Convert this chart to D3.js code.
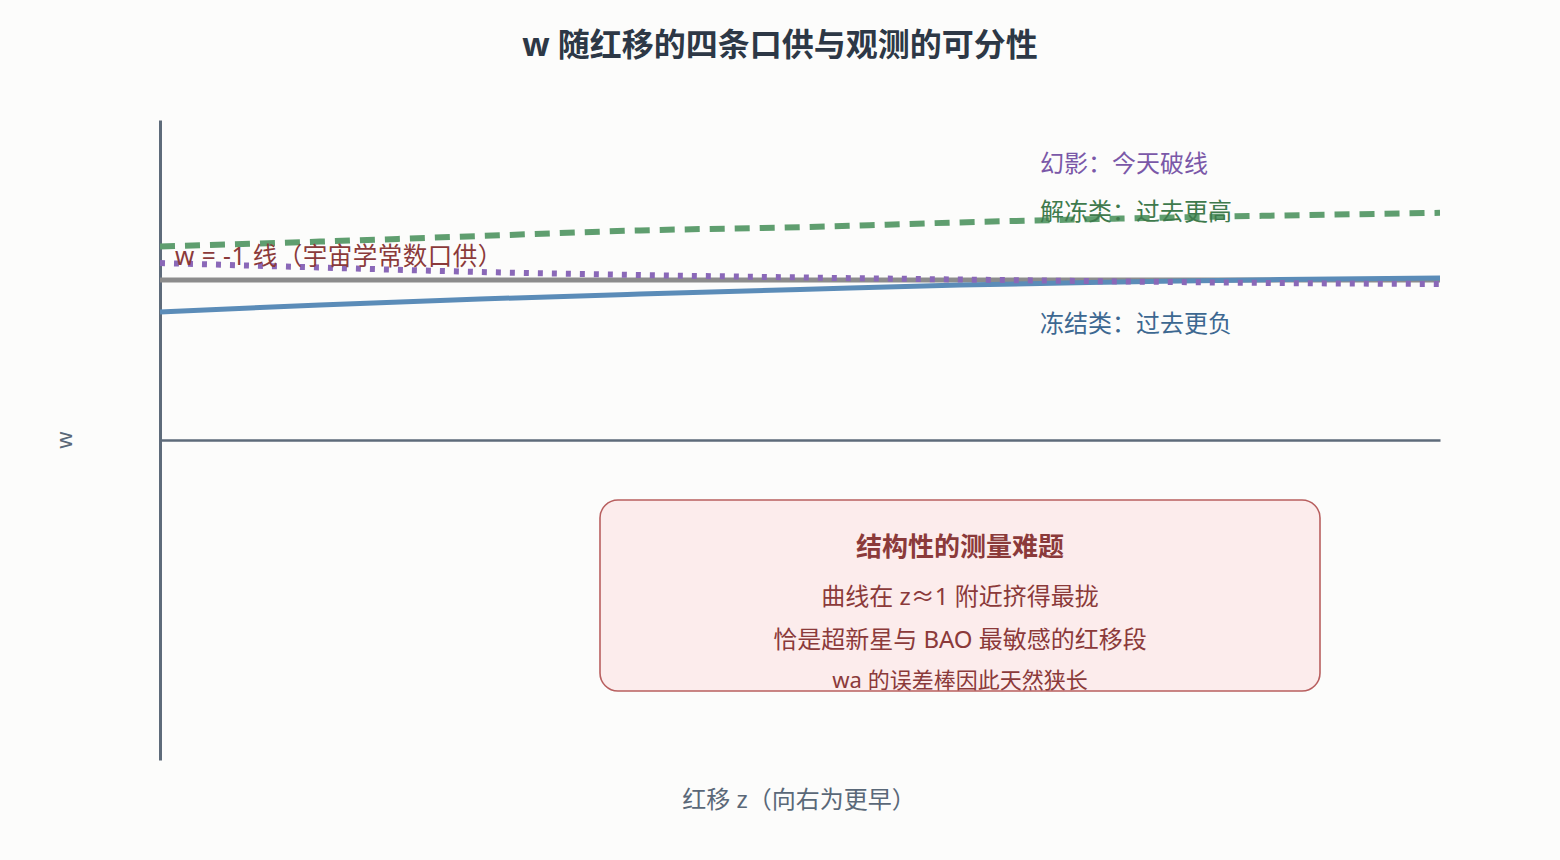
<!DOCTYPE html>
<html>
<head>
<meta charset="utf-8">
<script src="https://cdn.jsdelivr.net/npm/d3@7"></script>
<style>
  html, body { margin: 0; padding: 0; background: #fcfcfb; }
  svg { display: block; font-family: "Noto Sans", "Noto Sans CJK SC", sans-serif; }
</style>
</head>
<body>
<svg id="chart" width="1560" height="860"></svg>
<script>
// ---- data ----
const redshift = [0, 0.25, 0.5, 0.75, 1.0, 1.25, 1.5, 1.75, 2.0];
const wLambda   = [-1, -1, -1, -1, -1, -1, -1, -1, -1];
const wFreezing = [-1.020, -1.0156, -1.0119, -1.0088, -1.0059, -1.0031, -1.0013, -0.9997, -0.9988];
const wThawing  = [-0.979, -0.976, -0.9725, -0.969, -0.967, -0.964, -0.9616, -0.9597, -0.958];
const wPhantom  = [-0.9894, -0.9922, -0.995, -0.9969, -0.9984, -0.9997, -1.0009, -1.0019, -1.0025];
const xDomain = [0, 2];
const yDomain = [-1.3, -0.9];
const axisBaseW = -1.1;

const titleText = "w 随红移的四条口供与观测的可分性";
const xLabel = "红移 z（向右为更早）";
const yLabel = "w";
const lambdaLabel = "w = -1 线（宇宙学常数口供）";
const phantomLabel = "幻影：今天破线";
const thawingLabel = "解冻类：过去更高";
const freezingLabel = "冻结类：过去更负";
const noteTitle = "结构性的测量难题";
const noteLines = ["曲线在 z≈1 附近挤得最拢", "恰是超新星与 BAO 最敏感的红移段", "wa 的误差棒因此天然狭长"];

// ---- layout ----
const svg = d3.select("#chart");
const margin = {left: 160, right: 120, top: 120, bottom: 100};
const W = 1560, H = 860;
const iw = W - margin.left - margin.right;
const ih = H - margin.top - margin.bottom;

const x = d3.scaleLinear().domain(xDomain).range([margin.left, margin.left + iw]);
const y = d3.scaleLinear().domain(yDomain).range([margin.top + ih, margin.top]);

// title
svg.append("text").attr("x", 780).attr("y", 56).attr("text-anchor", "middle")
  .attr("font-size", 32).attr("font-weight", 700).attr("fill", "#2d3846").text(titleText);

// axes
const gx = svg.append("g").attr("transform", `translate(0,${y(axisBaseW)})`)
  .call(d3.axisBottom(x).tickValues([]).tickSizeOuter(0));
gx.select(".domain").attr("stroke", "#5e6b7a").attr("stroke-width", 2.5);
const gy = svg.append("g").attr("transform", `translate(${margin.left},0)`)
  .call(d3.axisLeft(y).tickValues([]).tickSizeOuter(0));
gy.select(".domain").attr("stroke", "#5e6b7a").attr("stroke-width", 3);

// axis labels
svg.append("text").attr("x", 799).attr("y", 808).attr("text-anchor", "middle")
  .attr("font-size", 24).attr("fill", "#5a6878").text(xLabel);
svg.append("text").attr("transform", `translate(72,${y(axisBaseW)}) rotate(-90)`)
  .attr("text-anchor", "middle").attr("font-size", 22).attr("fill", "#5a6878").text(yLabel);

// lines
const line = d3.line().x((d, i) => x(redshift[i])).y(d => y(d)).curve(d3.curveMonotoneX);
const series = [
  {vals: wLambda,   color: "#8c8c8c", width: 5, dash: null},
  {vals: wFreezing, color: "#5b8cb8", width: 5, dash: null},
  {vals: wThawing,  color: "#5f9e6f", width: 6, dash: "15,10"},
  {vals: wPhantom,  color: "#8a68b8", width: 6, dash: "5,9"}
];
series.forEach(s => {
  svg.append("path").datum(s.vals).attr("d", line)
    .attr("fill", "none").attr("stroke", s.color).attr("stroke-width", s.width)
    .attr("stroke-dasharray", s.dash);
});

// series labels
svg.append("text").attr("x", 175).attr("y", 265).attr("font-size", 24.5)
  .attr("letter-spacing", 0.5).attr("fill", "#8b3a3a").text(lambdaLabel);
svg.append("text").attr("x", x(1.375)).attr("y", 172).attr("font-size", 24)
  .attr("fill", "#7a58a8").text(phantomLabel);
svg.append("text").attr("x", x(1.375)).attr("y", 220).attr("font-size", 24)
  .attr("fill", "#3e7a4c").text(thawingLabel);
svg.append("text").attr("x", x(1.375)).attr("y", 332).attr("font-size", 24)
  .attr("fill", "#3d6891").text(freezingLabel);

// note box
const box = svg.append("g");
box.append("rect").attr("x", 600).attr("y", 500).attr("width", 720).attr("height", 191)
  .attr("rx", 18).attr("fill", "#fcecec").attr("stroke", "#b85f5f").attr("stroke-width", 1.6);
box.append("text").attr("x", 960).attr("y", 556).attr("text-anchor", "middle")
  .attr("font-size", 26).attr("font-weight", 700).attr("fill", "#8b3a3a").text(noteTitle);
const noteY = [605, 648, 688];
const noteSize = [24, 24, 22];
noteLines.forEach((t, i) => {
  box.append("text").attr("x", 960).attr("y", noteY[i]).attr("text-anchor", "middle")
    .attr("font-size", noteSize[i]).attr("fill", "#8b3a3a").text(t);
});
</script>
</body>
</html>
